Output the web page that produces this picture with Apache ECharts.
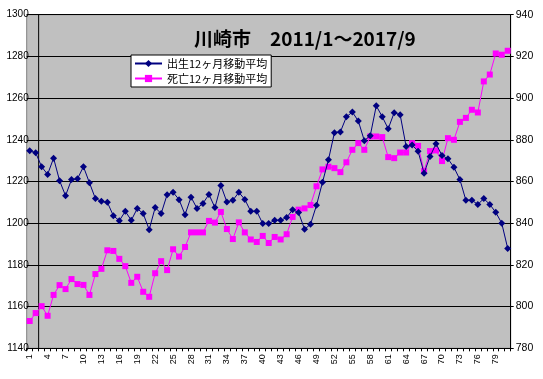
<!DOCTYPE html>
<html><head><meta charset="utf-8">
<script src="https://cdn.jsdelivr.net/npm/echarts@6/dist/echarts.min.js"></script>
<style>html,body{margin:0;padding:0;background:#fff}#c{width:543px;height:379px}</style>
</head><body><div id="c"></div>
<script>
const titleText = '川崎市　2011/1～2017/9';
const seriesNames = ['出生12ヶ月移動平均', '死亡12ヶ月移動平均'];
const categories = [];
for (let i = 1; i <= 81; i++) categories.push(String(i));
const births = [1234.7,1233.8,1227.1,1223.4,1231.2,1220.4,1213.2,1220.9,1221.3,1227.1,
 1219.4,1211.8,1210.5,1210.0,1203.6,1201.2,1205.7,1201.4,1207.0,1204.6,
 1196.9,1207.5,1204.6,1213.7,1214.8,1211.3,1204.1,1212.5,1207.1,1209.5,
 1213.8,1207.5,1218.1,1210.2,1211.0,1214.8,1211.4,1205.7,1205.7,1199.8,
 1199.8,1201.4,1201.4,1202.7,1206.5,1205.1,1197.1,1199.5,1208.6,1219.6,
 1230.4,1243.4,1243.8,1251.0,1253.3,1249.0,1239.6,1242.0,1256.3,1251.1,
 1245.3,1253.0,1252.0,1236.8,1237.5,1234.5,1224.0,1232.0,1238.1,1232.5,
 1230.9,1226.8,1220.9,1211.0,1211.0,1209.0,1211.8,1209.0,1205.2,1200.0,1187.9];
const deaths = [793.1,796.9,800.2,795.6,805.6,810.3,808.4,813.2,810.8,810.4,
 805.6,815.6,818.1,827.0,826.7,822.9,819.4,811.4,814.3,807.1,
 804.7,816.0,821.8,817.5,827.5,824.0,828.6,835.6,835.6,835.6,
 841.1,840.3,845.4,837.2,832.4,840.4,835.6,832.2,831.0,833.9,
 830.5,833.4,832.2,834.7,843.0,846.5,847.1,848.7,857.7,865.8,
 867.1,866.4,864.5,869.2,875.2,878.4,875.2,881.6,881.6,881.3,
 871.7,871.2,873.9,873.9,878.4,877.1,865.0,874.6,874.9,869.8,
 880.8,880.0,888.6,890.5,894.4,893.1,908.0,911.3,921.4,920.8,922.7];
const leftTicks = {min:1140, max:1300, interval:20};
const rightTicks = {min:780, max:940, interval:20};
// value axis crosses the category axis before category 3 (boundary index 2)
const axisCross = 2;

const chart = echarts.init(document.getElementById('c'), null, {renderer:'canvas'});
chart.setOption({
  animation:false,
  backgroundColor:'#ffffff',
  title:{text:titleText, left:189, top:24,
    textStyle:{fontFamily:'Noto Sans CJK JP', fontWeight:'bold', fontSize:19, color:'#000'}},
  legend:{orient:'vertical', left:131, top:55, backgroundColor:'#fff', borderColor:'#000', borderWidth:1,
    padding:[3,4,3,3], itemGap:4, itemWidth:27, itemHeight:9,
    textStyle:{fontFamily:'Noto Sans CJK JP', fontSize:11, color:'#000'},
    data:seriesNames},
  grid:{left:26.7, right:32.3, top:14.7, bottom:30.7, show:true, backgroundColor:'#C0C0C0',
    borderColor:'#808080', borderWidth:1, containLabel:false, outerBoundsMode:'none'},
  xAxis:[
    {type:'category', data:categories, boundaryGap:true,
     axisLine:{show:true, lineStyle:{color:'#000', width:1}},
     axisTick:{show:true, interval:0, length:3, lineStyle:{color:'#000'}},
     axisLabel:{interval:2, rotate:90, fontSize:9, fontFamily:'Liberation Sans', color:'#000', margin:6},
     splitLine:{show:false}},
    {type:'value', min:0, max:categories.length, show:false}
  ],
  yAxis:[
    {type:'value', position:'left', min:leftTicks.min, max:leftTicks.max, interval:leftTicks.interval,
     axisLine:{show:false}, axisTick:{show:false},
     axisLabel:{fontSize:10, fontFamily:'Liberation Sans', color:'#000', margin:-2, formatter:function(v){return String(v);}},
     splitLine:{show:true, lineStyle:{color:'#000', width:1}}},
    {type:'value', position:'right', min:rightTicks.min, max:rightTicks.max, interval:rightTicks.interval,
     axisLine:{show:true, lineStyle:{color:'#000', width:1}},
     axisTick:{show:true, length:3, lineStyle:{color:'#000'}},
     axisLabel:{fontSize:10.5, fontFamily:'Liberation Sans', color:'#000', margin:5, formatter:function(v){return String(v);}},
     splitLine:{show:false}}
  ],
  series:[
    {name:'axis', type:'line', xAxisIndex:1, yAxisIndex:0, silent:true, symbol:'none',
     data:[[axisCross, leftTicks.min],[axisCross, leftTicks.max]],
     lineStyle:{color:'#000', width:1}, z:1},
    {name:seriesNames[0], type:'line', yAxisIndex:0, data:births, symbol:'diamond', symbolSize:7, showAllSymbol:true,
     itemStyle:{color:'#000080'}, lineStyle:{color:'#000080', width:1}, z:3},
    {name:seriesNames[1], type:'line', yAxisIndex:1, data:deaths, symbol:'rect', symbolSize:6, showAllSymbol:true,
     itemStyle:{color:'#FF00FF'}, lineStyle:{color:'#FF00FF', width:1}, z:2}
  ]
});
</script></body></html>
